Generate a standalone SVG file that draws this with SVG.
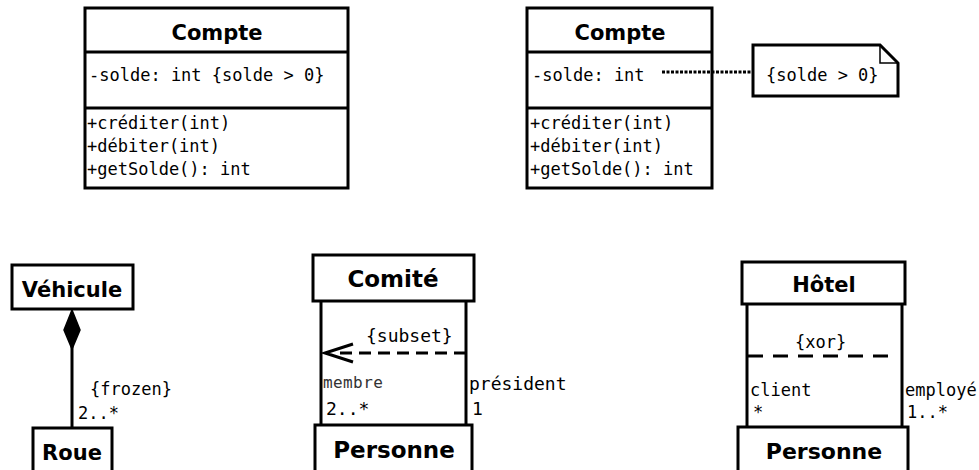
<svg xmlns="http://www.w3.org/2000/svg" width="979" height="470" viewBox="0 0 979 470">
<style>
.box{fill:#fff;stroke:#000;stroke-width:3}
.ln{fill:none;stroke:#000;stroke-width:3}
.t{font-family:"DejaVu Sans Bold","DejaVu Sans",sans-serif;font-weight:bold;font-size:21px;text-anchor:middle;fill:#000}
.m{font-family:"DejaVu Sans Mono","Liberation Mono",monospace;font-size:17px;fill:#000}
.b{font-size:18px}
.s{font-family:"DejaVu Sans Mono","Liberation Mono",monospace;font-size:16px;fill:#333}
</style>
<rect width="979" height="470" fill="#fff"/>
<g id="compte1">
<rect class="box" x="85" y="8" width="263" height="180"/>
<line class="ln" x1="85" y1="52" x2="348" y2="52"/>
<line class="ln" x1="85" y1="108" x2="348" y2="108"/>
<text class="t" x="217" y="40">Compte</text>
<text class="m" x="89" y="81">-solde: int {solde &gt; 0}</text>
<text class="m" x="87" y="129">+créditer(int)</text>
<text class="m" x="87" y="152">+débiter(int)</text>
<text class="m" x="87" y="175">+getSolde(): int</text>
</g>
<g id="compte2">
<rect class="box" x="527" y="8" width="185" height="180"/>
<line class="ln" x1="527" y1="52" x2="712" y2="52"/>
<line class="ln" x1="527" y1="108" x2="712" y2="108"/>
<text class="t" x="620" y="40">Compte</text>
<text class="m" x="532" y="81">-solde: int</text>
<text class="m" x="530" y="129">+créditer(int)</text>
<text class="m" x="530" y="152">+débiter(int)</text>
<text class="m" x="530" y="175">+getSolde(): int</text>
</g>
<g id="note">
<path class="box" d="M753,45 H880 L898,63 V96 H753 Z"/>
<path fill="none" stroke="#000" stroke-width="1.5" d="M880,45 V63 H898"/>
<text class="m" x="766" y="81">{solde &gt; 0}</text>
</g>
<g id="vehicule">
<rect class="box" x="12" y="265" width="121" height="44"/>
<text class="t" x="72" y="297">Véhicule</text>
</g>
<g id="roue">
<rect class="box" x="33" y="428" width="79" height="60"/>
<text class="t" x="72" y="460">Roue</text>
</g>
<g id="comite">
<rect class="box" x="313" y="255" width="161" height="46"/>
<text class="t" x="393" y="287" style="font-size:23px">Comité</text>
</g>
<g id="personne1">
<rect class="box" x="315" y="425" width="157" height="60"/>
<text class="t" x="394" y="458" style="font-size:23px">Personne</text>
</g>
<g id="hotel">
<rect class="box" x="742" y="262" width="163" height="42"/>
<text class="t" x="824" y="292">Hôtel</text>
</g>
<g id="personne2">
<rect class="box" x="738" y="427" width="170" height="60"/>
<text class="t" x="824" y="459" style="font-size:22px">Personne</text>
</g>
<g id="connectors">
<line x1="662" y1="72" x2="753" y2="72" stroke="#000" stroke-width="3" stroke-dasharray="3 1.5"/>
<line class="ln" x1="72" y1="346" x2="72" y2="428"/>
<path d="M72,310 L80,330 L72,349 L64,330 Z" fill="#000" stroke="#000" stroke-width="1.5"/>
<line class="ln" x1="321" y1="301" x2="321" y2="425"/>
<line class="ln" x1="466" y1="301" x2="466" y2="425"/>
<line class="ln" x1="466" y1="353" x2="336" y2="353" stroke-dasharray="12 7"/>
<path class="ln" d="M353,344 L325,353 L353,362"/>
<line class="ln" x1="747" y1="304" x2="747" y2="427"/>
<line class="ln" x1="902" y1="304" x2="902" y2="427"/>
<line class="ln" x1="748" y1="356" x2="888" y2="356" stroke-dasharray="15 10"/>
</g>
<g id="labels">
<text class="m" x="90" y="395">{frozen}</text>
<text class="m" x="78" y="419">2..*</text>
<text class="m b" x="366" y="342">{subset}</text>
<text class="s" x="323" y="388" letter-spacing="0.4">membre</text>
<text class="m b" x="326" y="415">2..*</text>
<text class="m b" x="469" y="390">président</text>
<text class="m b" x="472" y="415">1</text>
<text class="m" x="795" y="348">{xor}</text>
<text class="m" x="750" y="396">client</text>
<text class="m" x="753" y="418">*</text>
<text class="m" x="905" y="396">employé</text>
<text class="m" x="907" y="418">1..*</text>
</g>
</svg>
